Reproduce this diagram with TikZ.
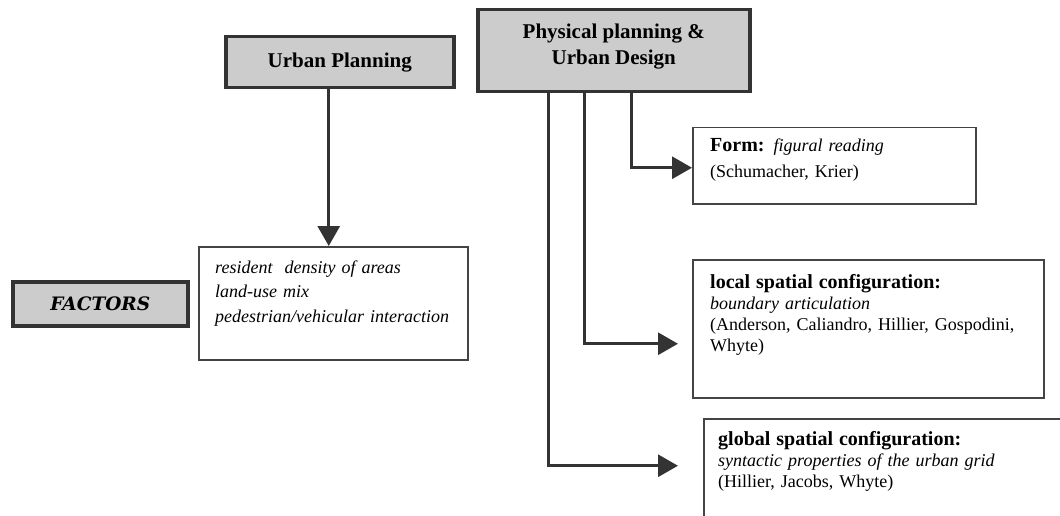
\documentclass[tikz,border=0pt]{standalone}
\usepackage{fontspec}
\setmainfont{Liberation Serif}
\newfontfamily\factorsfont{DejaVu Serif}
\usetikzlibrary{arrows.meta}
\definecolor{boxgray}{HTML}{CCCCCC}
\definecolor{linec}{HTML}{333333}
\definecolor{edgec}{HTML}{444444}
\begin{document}
\begin{tikzpicture}[x=1pt,y=-1pt,
  graybox/.style={draw=linec, line width=3.5pt, fill=boxgray, inner sep=0pt,
    font=\bfseries\fontsize{21}{26}\selectfont, align=center},
  whitebox/.style={draw=edgec, line width=1.5pt, fill=white, inner sep=0pt},
  txt/.style={anchor=base west, inner sep=0pt, text width=#1, align=left},
  conn/.style={draw=linec, line width=3pt, -{Triangle[length=20pt,width=22pt]}},
]
\useasboundingbox (0,0) rectangle (1060,516);
\clip (0,0) rectangle (1060,516);

% gray headers
\node[graybox, anchor=north west, minimum width=228pt, minimum height=51pt] (up) at (224,35) {Urban Planning};
\node[graybox, anchor=north west, minimum width=272pt, minimum height=82pt] (pp) at (476,8)
  {Physical planning \&\\Urban Design\rule[-14pt]{0pt}{1pt}};
\node[graybox, anchor=north west, minimum width=175pt, minimum height=44pt,
  font=\factorsfont\bfseries\itshape\fontsize{18.5}{20}\selectfont] (fac) at (11,280) {FACTORS};

% white boxes
\node[whitebox, anchor=north west, minimum width=269pt, minimum height=113pt] (fl) at (198,246) {};
\node[txt=260pt, font=\itshape\fontsize{18}{24.5}\selectfont] (flt) at (215,273)
  {resident\ \ density of areas\\land-use mix\\pedestrian/vehicular interaction};

\node[whitebox, anchor=north west, minimum width=283pt, minimum height=76pt] (form) at (692,127) {};
\node[txt=260pt, font=\fontsize{18}{26}\selectfont] (formt) at (710,152)
  {\textbf{\fontsize{20}{26}\selectfont Form:} \textit{figural reading}\\(Schumacher, Krier)};

\node[whitebox, anchor=north west, minimum width=351pt, minimum height=138pt] (loc) at (692,259) {};
\node[txt=345pt, font=\fontsize{18}{21}\selectfont] (loct) at (710,288)
  {{\bfseries\fontsize{20}{23}\selectfont local spatial configuration:}\\
   \textit{boundary articulation}\\(Anderson, Caliandro, Hillier, Gospodini,\\Whyte)};

\node[whitebox, anchor=north west, minimum width=400pt, minimum height=150pt] (glob) at (703,418) {};
\node[txt=345pt, font=\fontsize{18}{21}\selectfont] (globt) at (718,445)
  {{\bfseries\fontsize{20}{22}\selectfont global spatial configuration:}\\
   \textit{syntactic properties of the urban grid}\\(Hillier, Jacobs, Whyte)};

% connectors
\draw[conn] ([xshift=-11pt]up.south) -- ([xshift=-11pt]up.south |- fl.north);
\draw[conn] ([xshift=18pt]pp.south) |- ([yshift=-2pt]form.west);
\draw[conn, shorten >=14pt] ([xshift=-29pt]pp.south) |- ([yshift=-15pt]loc.west);
\draw[conn, shorten >=25pt] ([xshift=-65pt]pp.south) |- ([yshift=28pt]glob.west);
\end{tikzpicture}
\end{document}
